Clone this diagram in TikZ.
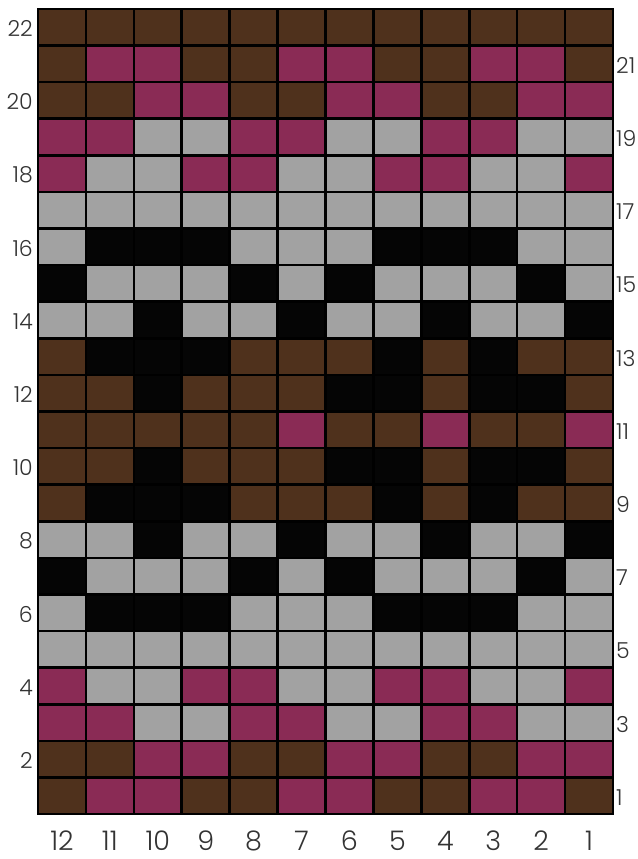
\documentclass[tikz,border=0pt]{standalone}
\usepackage{fontspec}
\setmainfont{Poppins}[UprightFont=* Light]
\definecolor{cB}{HTML}{4F311C}
\definecolor{cM}{HTML}{8A2B55}
\definecolor{cG}{HTML}{A2A2A2}
\definecolor{cK}{HTML}{050505}
\tikzset{
  rowlab/.style={font=\fontsize{22}{22}\selectfont, text=black!80, inner sep=0pt},
  collab/.style={font=\fontsize{27}{27}\selectfont, text=black!80, inner sep=0pt},
  gridline/.style={line width=2.6pt, draw=black, line cap=rect}
}
\begin{document}
\begin{tikzpicture}[x=1pt,y=-1pt]
\useasboundingbox (0,0) rectangle (637,859);
\clip (0,0) rectangle (637,859);
\fill[white] (0,0) rectangle (637,859);
\def\gx{38}\def\gy{9}\def\cw{47.9167}\def\ch{36.5909}
\foreach \r/\pat in {
 22/{B,B,B,B,B,B,B,B,B,B,B,B},
 21/{B,M,M,B,B,M,M,B,B,M,M,B},
 20/{B,B,M,M,B,B,M,M,B,B,M,M},
 19/{M,M,G,G,M,M,G,G,M,M,G,G},
 18/{M,G,G,M,M,G,G,M,M,G,G,M},
 17/{G,G,G,G,G,G,G,G,G,G,G,G},
 16/{G,K,K,K,G,G,G,K,K,K,G,G},
 15/{K,G,G,G,K,G,K,G,G,G,K,G},
 14/{G,G,K,G,G,K,G,G,K,G,G,K},
 13/{B,K,K,K,B,B,B,K,B,K,B,B},
 12/{B,B,K,B,B,B,K,K,B,K,K,B},
 11/{B,B,B,B,B,M,B,B,M,B,B,M},
 10/{B,B,K,B,B,B,K,K,B,K,K,B},
 9/{B,K,K,K,B,B,B,K,B,K,B,B},
 8/{G,G,K,G,G,K,G,G,K,G,G,K},
 7/{K,G,G,G,K,G,K,G,G,G,K,G},
 6/{G,K,K,K,G,G,G,K,K,K,G,G},
 5/{G,G,G,G,G,G,G,G,G,G,G,G},
 4/{M,G,G,M,M,G,G,M,M,G,G,M},
 3/{M,M,G,G,M,M,G,G,M,M,G,G},
 2/{B,B,M,M,B,B,M,M,B,B,M,M},
 1/{B,M,M,B,B,M,M,B,B,M,M,B}}{
  \foreach \c [count=\i] in \pat {
    \fill[c\c] ({\gx+(\i-1)*\cw},{\gy+(22-\r)*\ch}) rectangle ({\gx+\i*\cw},{\gy+(23-\r)*\ch});
  }
}
% grid lines
\foreach \i in {0,...,12}{
  \draw[gridline] ({\gx+\i*\cw},\gy) -- ({\gx+\i*\cw},{\gy+22*\ch});
}
\foreach \j in {0,...,22}{
  \draw[gridline] (\gx,{\gy+\j*\ch}) -- ({\gx+12*\cw},{\gy+\j*\ch});
}
% row labels
\foreach \r in {22,20,...,2}{
  \node[rowlab, anchor=east] (rl\r) at (33,{\gy+(22.5-\r)*\ch+1.5}) {\r};
}
\foreach \r in {21,19,...,1}{
  \node[rowlab, anchor=west] (rr\r) at (616,{\gy+(22.5-\r)*\ch+1.5}) {\r};
}
% column labels
\foreach \c [count=\i] in {12,11,...,1}{
  \node[collab] (cl\c) at ({\gx+(\i-0.5)*\cw},841) {\c};
}
\end{tikzpicture}
\end{document}
